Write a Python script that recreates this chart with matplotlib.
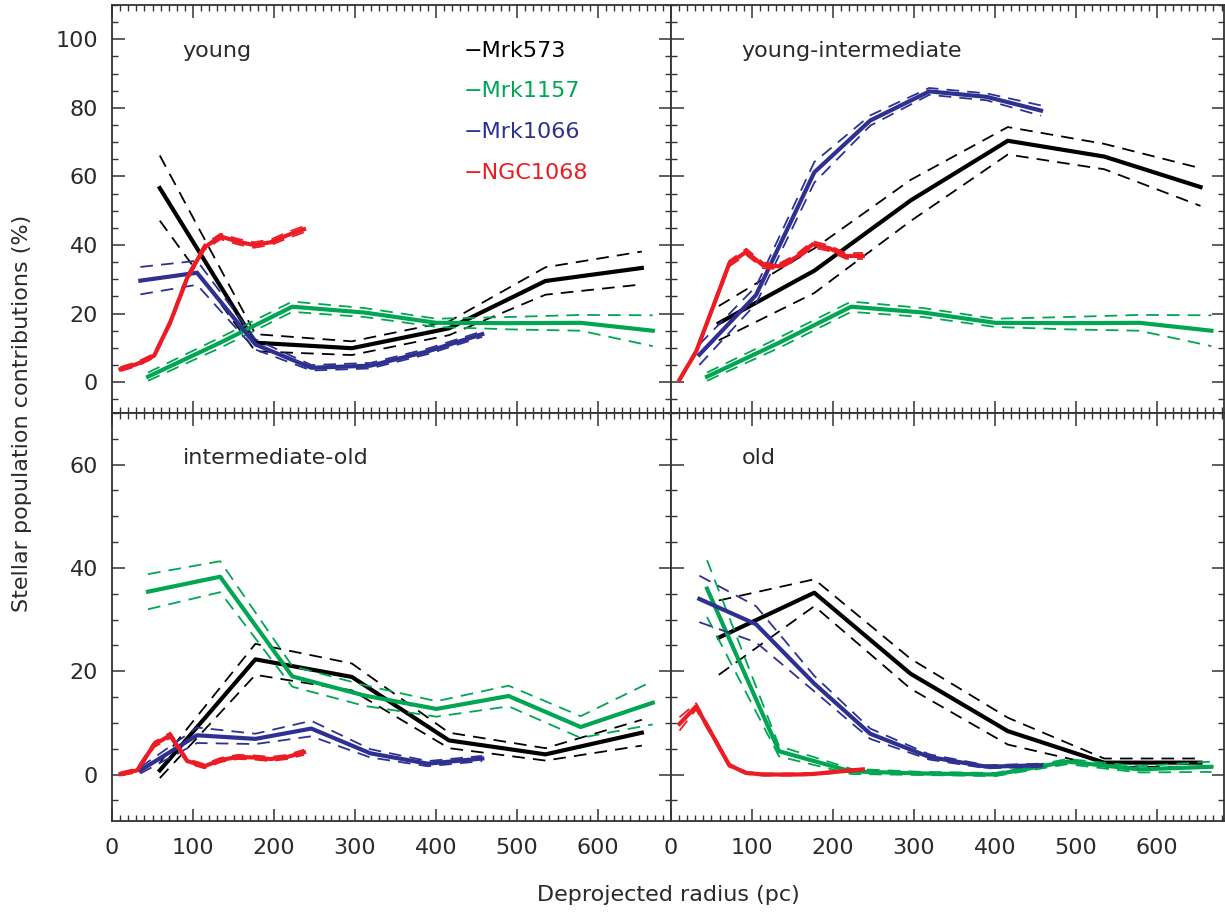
import numpy as np
import matplotlib
matplotlib.use("Agg")
import matplotlib.pyplot as plt
from matplotlib.ticker import MultipleLocator

# deprojected radii (pc) of the bins of each galaxy
r_mrk573 = [59, 177, 296, 416, 535, 654]
r_mrk1157 = [44.5, 133.5, 222.5, 311.5, 400.5, 489.5, 578.5, 667.5]
r_mrk1066 = [35, 105, 177, 246, 319, 390, 457]
r_ngc1068 = [10.5, 31, 52, 72, 93, 114, 134, 155, 175, 196, 216, 237]

# young
young_mrk573 = [56.6, 11.5, 9.9, 15.7, 29.5, 33.3]
young_mrk573_err = [9.5, 2.5, 2.0, 2.0, 4.0, 4.8]
young_mrk1157 = [1.6, 11.5, 22.0, 20.3, 17.3, 17.2, 17.3, 15.0]
young_mrk1157_err = [1.2, 1.5, 1.5, 1.3, 1.2, 1.8, 2.3, 4.5]
young_mrk1066 = [29.6, 31.9, 11.0, 4.2, 4.8, 9.0, 14.0]
young_mrk1066_err = [4.0, 3.5, 1.5, 0.8, 0.8, 0.8, 0.8]
young_ngc1068 = [3.8, 5.3, 7.7, 17.5, 30.5, 39.3, 42.5, 41.0, 40.0, 40.8, 42.8, 44.6]
young_ngc1068_err = [0.6, 0.6, 0.6, 0.7, 0.8, 0.8, 0.8, 0.8, 0.8, 0.8, 0.9, 0.9]

# young-intermediate
yint_mrk573 = [17.2, 32.5, 53.0, 70.4, 65.8, 56.9]
yint_mrk573_err = [5.0, 6.5, 6.0, 4.0, 3.7, 5.5]
yint_mrk1157 = [1.6, 11.5, 22.0, 20.3, 17.3, 17.2, 17.3, 15.0]
yint_mrk1157_err = [1.2, 1.5, 1.5, 1.3, 1.2, 1.8, 2.3, 4.5]
yint_mrk1066 = [8.0, 25.4, 61.2, 76.3, 84.8, 83.2, 79.2]
yint_mrk1066_err = [3.0, 2.5, 3.0, 1.5, 1.0, 1.0, 1.5]
yint_ngc1068 = [0.7, 8.9, 22.0, 34.6, 38.0, 34.0, 33.8, 36.5, 40.2, 39.0, 36.8, 36.8]
yint_ngc1068_err = [0.4, 0.6, 0.7, 0.8, 0.9, 0.8, 0.8, 0.8, 0.9, 0.8, 0.8, 0.9]

# intermediate-old
iold_mrk573 = [0.8, 22.3, 18.9, 6.6, 3.9, 8.1]
iold_mrk573_err = [1.5, 3.0, 2.6, 1.5, 1.2, 2.5]
iold_mrk1157 = [35.4, 38.3, 19.0, 15.3, 12.7, 15.2, 9.2, 13.9]
iold_mrk1157_err = [3.4, 3.0, 2.0, 2.0, 1.5, 2.0, 2.1, 4.2]
iold_mrk1066 = [0.8, 7.6, 6.9, 8.9, 4.1, 2.1, 3.1]
iold_mrk1066_err = [0.6, 1.5, 1.0, 1.5, 0.8, 0.5, 0.5]
iold_ngc1068 = [0.1, 0.8, 5.8, 7.6, 2.6, 1.6, 2.8, 3.4, 3.3, 3.0, 3.4, 4.3]
iold_ngc1068_err = [0.3, 0.4, 0.5, 0.5, 0.4, 0.4, 0.4, 0.4, 0.4, 0.4, 0.4, 0.5]

# old
old_mrk573 = [26.5, 35.2, 19.5, 8.4, 2.3, 2.3]
old_mrk573_err = [7.2, 2.6, 2.9, 2.6, 0.8, 0.8]
old_mrk1157 = [36.0, 4.5, 0.6, 0.2, 0.0, 2.5, 1.0, 1.5]
old_mrk1157_err = [5.5, 1.0, 0.5, 0.3, 0.3, 0.5, 0.6, 1.0]
old_mrk1066 = [34.0, 29.1, 17.6, 7.9, 3.4, 1.5, 1.8]
old_mrk1066_err = [4.5, 3.5, 1.5, 1.0, 0.5, 0.3, 0.3]
old_ngc1068 = [9.8, 13.2, 7.4, 1.8, 0.3, 0.0, 0.0, 0.0, 0.1, 0.4, 0.7, 1.0]
old_ngc1068_err = [1.3, 0.6, 0.4, 0.3, 0.2, 0.2, 0.2, 0.2, 0.2, 0.2, 0.2, 0.2]

names = ["Mrk573", "Mrk1157", "Mrk1066", "NGC1068"]
colors = ["black", "#00A651", "#2E3192", "#ED1C24"]
radii = [r_mrk573, r_mrk1157, r_mrk1066, r_ngc1068]

panels = [
    ("young", [young_mrk573, young_mrk1157, young_mrk1066, young_ngc1068],
     [young_mrk573_err, young_mrk1157_err, young_mrk1066_err, young_ngc1068_err]),
    ("young-intermediate", [yint_mrk573, yint_mrk1157, yint_mrk1066, yint_ngc1068],
     [yint_mrk573_err, yint_mrk1157_err, yint_mrk1066_err, yint_ngc1068_err]),
    ("intermediate-old", [iold_mrk573, iold_mrk1157, iold_mrk1066, iold_ngc1068],
     [iold_mrk573_err, iold_mrk1157_err, iold_mrk1066_err, iold_ngc1068_err]),
    ("old", [old_mrk573, old_mrk1157, old_mrk1066, old_ngc1068],
     [old_mrk573_err, old_mrk1157_err, old_mrk1066_err, old_ngc1068_err]),
]

W, H = 1225, 913
fig = plt.figure(figsize=(W / 100, H / 100), dpi=100)

# pixel boxes: left, top, right, bottom
boxes = [(112, 5, 671, 413), (671, 5, 1224, 413),
         (112, 413, 671, 821), (671, 413, 1224, 821)]
xmax = [690, 683, 690, 683]
ylims = [(-9, 110), (-9, 110), (-9, 70), (-9, 70)]
frame = "#333333"
txt = "#2a2a2a"

for i, (label, vals, errs) in enumerate(panels):
    l, t, r, b = boxes[i]
    ax = fig.add_axes([l / W, 1 - b / H, (r - l) / W, (b - t) / H])
    for rr, v, e, c in zip(radii, vals, errs, colors):
        rr = np.array(rr)
        v = np.array(v)
        e = np.array(e)
        ax.plot(rr, v + e, color=c, lw=1.3, ls=(0, (7, 4.5)))
        ax.plot(rr, v - e, color=c, lw=1.3, ls=(0, (7, 4.5)))
        ax.plot(rr, v, color=c, lw=3.0)

    ax.set_xlim(0, xmax[i])
    ax.set_ylim(*ylims[i])
    ax.xaxis.set_major_locator(MultipleLocator(100))
    ax.xaxis.set_minor_locator(MultipleLocator(10))
    ax.yaxis.set_major_locator(MultipleLocator(20))
    ax.yaxis.set_minor_locator(MultipleLocator(5))
    ax.tick_params(which="both", direction="in", top=True, right=True,
                   colors=frame, labelcolor=txt, labelsize=16)
    ax.tick_params(which="major", length=9, width=1.1)
    ax.tick_params(which="minor", length=4.5, width=1.0)
    ax.tick_params(axis="x", pad=12)
    ax.tick_params(axis="y", pad=10)
    for s in ax.spines.values():
        s.set_color(frame)
        s.set_linewidth(1.3)

    if i < 2:
        ax.set_yticks(np.arange(0, 101, 20))
        ax.tick_params(labelbottom=False)
        ax.text(87, 94.7, label, fontsize=16, color=txt)
    else:
        ax.set_yticks(np.arange(0, 61, 20))
        ax.text(87, 60.1, label, fontsize=16, color=txt)
    if i % 2 == 1:
        ax.tick_params(labelleft=False)

    if i == 0:
        for k, (n, c) in enumerate(zip(names, colors)):
            ax.text(434, 94.9 - 11.85 * k, "\u2212" + n, fontsize=16, color=c)

fig.text(22 / W, 1 - 413 / H, "Stellar population contributions (%)",
         rotation=90, ha="center", va="center", fontsize=16, color=txt)
fig.text(668 / W, 1 - 895 / H, "Deprojected radius (pc)",
         ha="center", va="center", fontsize=16, color=txt)

fig.savefig("out.png", dpi=100)
